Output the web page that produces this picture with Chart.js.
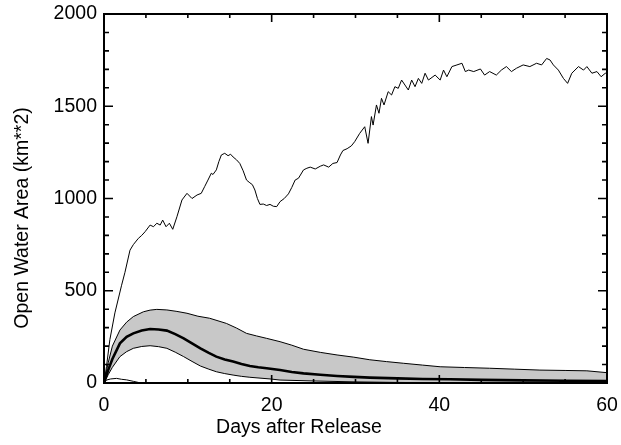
<!DOCTYPE html>
<html>
<head>
<meta charset="utf-8">
<script src="https://cdn.jsdelivr.net/npm/chart.js@4"></script>
<style>
  html, body { margin: 0; padding: 0; background: #fff; }
  #wrap { width: 621px; height: 445px; }
</style>
</head>
<body>
<div id="wrap"><canvas id="c"></canvas></div>
<script>
// maximum open water area (thin noisy line)
const maxDays = [0,0.3,0.7,1.3,2.1,2.5,3.1,3.5,4.1,4.5,4.9,5.5,5.9,6.3,6.7,7.0,7.4,7.8,8.2,8.7,9.3,9.9,10.5,11.1,11.6,12.0,12.4,12.8,13.0,13.4,13.7,14.0,14.4,14.8,15.1,15.4,15.8,16.2,16.6,17.0,17.4,17.7,18.0,18.3,18.6,19.0,19.4,19.8,20.2,20.6,21.0,21.5,22.0,22.4,22.8,23.2,23.8,24.2,24.6,25.2,25.8,26.2,26.8,27.3,27.8,28.2,28.5,29.0,29.5,29.9,30.5,31.1,31.5,31.9,32.1,32.5,32.8,33.1,33.4,33.9,34.3,34.7,35.1,35.5,35.9,36.3,36.7,37.1,37.5,37.9,38.3,38.7,39.5,40.1,40.5,40.9,41.5,42.1,42.7,43.1,43.5,44.1,44.9,45.4,46.0,46.8,47.4,48.0,48.6,49.2,50.0,50.8,51.6,52.2,52.8,53.2,53.6,54.2,54.8,55.3,55.8,56.6,57.2,57.6,58.2,58.8,59.3,59.8,60];
const maxArea = [0,90,235,380,530,600,720,750,784,800,820,856,847,866,856,883,847,866,833,901,992,1028,1000,1019,1028,1064,1100,1137,1130,1155,1200,1236,1245,1232,1240,1225,1210,1190,1150,1100,1085,1075,1046,1000,968,970,962,968,958,956,983,1000,1025,1060,1100,1110,1155,1164,1170,1160,1175,1182,1170,1190,1195,1236,1260,1270,1285,1308,1353,1389,1299,1444,1398,1507,1462,1543,1507,1579,1561,1606,1597,1642,1615,1588,1642,1606,1651,1624,1679,1642,1669,1642,1696,1660,1715,1724,1733,1688,1696,1688,1702,1669,1688,1669,1696,1715,1688,1706,1724,1715,1733,1724,1759,1751,1724,1696,1651,1624,1679,1715,1696,1715,1679,1688,1660,1679,1675];

// upper edge of the shaded band
const hiDays = [0,0.5,1.0,1.9,2.7,3.5,4.7,5.5,6.3,7.5,8.7,9.9,11.2,12.6,14.6,15.8,17.0,18.2,19.4,21.0,22.4,23.8,25.8,27.8,29.8,31.7,33.7,35.7,38.0,40.1,43.0,46.0,49.0,52.0,55.0,57.6,60];
const hiArea = [0,110,200,287,330,360,386,395,399,396,388,378,362,351,323,298,269,255,242,224,205,183,166,152,140,126,116,107,97,88,84,80,75,70,68,66,56];

// mean (thick line)
const meanDays = [0,0.5,1.0,1.9,2.7,3.5,4.5,5.5,6.5,7.5,8.5,9.5,10.5,11.5,12.5,13.4,14.4,15.4,16.4,17.4,18.4,19.4,21.0,22.4,23.8,25.8,27.8,29.8,31.7,35,38,41.3,45,50,55,60];
const meanArea = [0,70,130,215,250,269,285,293,290,284,265,242,215,188,163,143,128,116,103,92,85,80,70,60,52,45,38,33,29,25,22,20,17,14,12,11];

// lower edge of the shaded band
const loDays = [0,0.5,1.0,1.9,2.7,3.5,4.5,5.5,6.5,7.5,8.5,9.5,10.5,11.5,12.5,13.4,14.4,15.4,16.4,17.4,19.8,21,25,30,35,41,50,60];
const loArea = [0,45,85,143,170,188,198,202,197,188,167,143,117,92,75,61,51,43,36,31,22,16,11,6,3,1,0,0];

// minimum (small bump near zero)
const minDays = [0,0.3,0.8,1.5,2.1,2.7,3.5,4.3,5];
const minArea = [0,16,22,25,20,17,9,1,0];

const xTicks = [0, 20, 40, 60];
const yTicks = [0, 500, 1000, 1500, 2000];

const FONT = '"Liberation Sans", Arial, Helvetica, sans-serif';

function pts(xs, ys) {
  return xs.map((x, i) => ({ x, y: ys[i] }));
}

const frame = {
  id: "frame",
  afterDraw(chart) {
    const { ctx, chartArea: a, scales: { x, y } } = chart;
    ctx.save();
    ctx.strokeStyle = "#000";
    ctx.lineWidth = 2;
    ctx.strokeRect(a.left, a.top, a.right - a.left, a.bottom - a.top);
    ctx.lineWidth = 1.6;
    ctx.beginPath();
    for (let d = 0; d <= 60; d += 5) {
      const px = x.getPixelForValue(d);
      const len = d % 20 === 0 ? 8 : 4;
      ctx.moveTo(px, a.bottom); ctx.lineTo(px, a.bottom - len);
      ctx.moveTo(px, a.top); ctx.lineTo(px, a.top + len);
    }
    for (let v = 0; v <= 2000; v += 100) {
      const py = y.getPixelForValue(v);
      const len = v % 500 === 0 ? 9 : 5;
      ctx.moveTo(a.left, py); ctx.lineTo(a.left + len, py);
      ctx.moveTo(a.right, py); ctx.lineTo(a.right - len, py);
    }
    ctx.stroke();

    ctx.fillStyle = "#000";
    ctx.font = "19.5px " + FONT;
    ctx.textAlign = "center";
    ctx.textBaseline = "alphabetic";
    ctx.fillText("Days after Release", 299, 433);
    ctx.translate(28, 218);
    ctx.rotate(-Math.PI / 2);
    ctx.fillText("Open Water Area (km**2)", 0, 0);
    ctx.restore();
  }
};

const thin = { borderColor: "#000", borderWidth: 1, pointRadius: 0, tension: 0, fill: false };

new Chart(document.getElementById("c"), {
  type: "line",
  data: {
    datasets: [
      { ...thin, label: "max", data: pts(maxDays, maxArea) },
      { ...thin, label: "mean", data: pts(meanDays, meanArea), borderWidth: 2.6 },
      { ...thin, label: "mean+sd", data: pts(hiDays, hiArea), fill: { target: 3 }, backgroundColor: "#c8c8c8" },
      { ...thin, label: "mean-sd", data: pts(loDays, loArea) },
      { ...thin, label: "min", data: pts(minDays, minArea) }
    ]
  },
  options: {
    responsive: true,
    maintainAspectRatio: false,
    animation: false,
    layout: { padding: { top: 14, right: 14, left: 0, bottom: 0 } },
    plugins: {
      legend: { display: false },
      tooltip: { enabled: false },
      filler: { drawTime: "beforeDatasetsDraw" }
    },
    scales: {
      x: {
        type: "linear",
        min: 0, max: 60,
        grid: { display: false, tickLength: 0 },
        border: { display: false },
        afterBuildTicks(axis) { axis.ticks = xTicks.map(v => ({ value: v })); },
        ticks: { color: "#000", font: { size: 19.5, family: FONT }, padding: 11, maxRotation: 0 },
        afterFit(axis) { axis.height = 62; axis.paddingLeft = 0; axis.paddingRight = 0; }
      },
      y: {
        min: 0, max: 2000,
        grid: { display: false, tickLength: 0 },
        border: { display: false },
        afterBuildTicks(axis) { axis.ticks = yTicks.map(v => ({ value: v })); },
        ticks: { color: "#000", font: { size: 19.5, family: FONT }, padding: 7, callback: v => String(v) },
        afterFit(axis) { axis.width = 104; axis.paddingTop = 0; axis.paddingBottom = 0; }
      }
    }
  },
  plugins: [frame]
});
</script>
</body>
</html>
